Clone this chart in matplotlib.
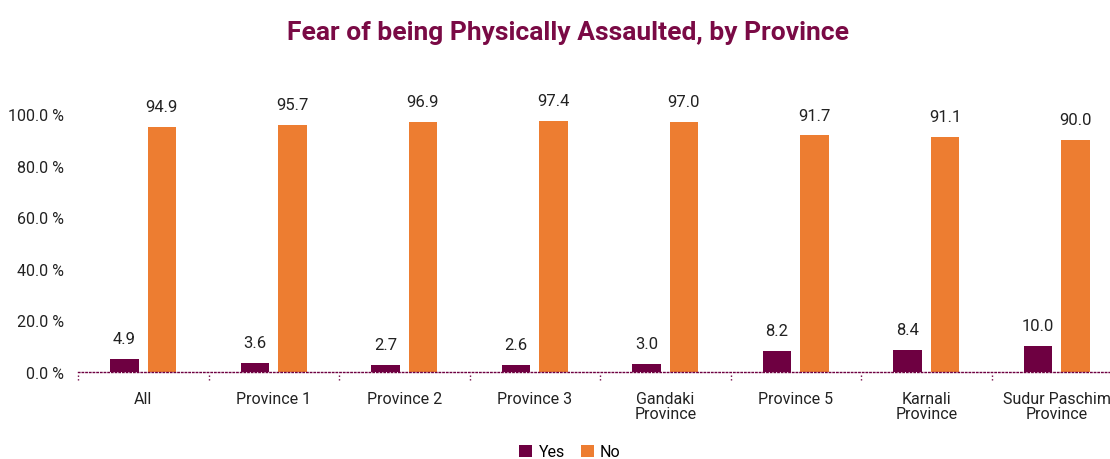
import numpy as np
import matplotlib.pyplot as plt

# categories and values (%)
categories = ['All', 'Province 1', 'Province 2', 'Province 3', 'Gandaki\nProvince',
              'Province 5', 'Karnali\nProvince', 'Sudur Paschim\nProvince']
yes_vals = [4.9, 3.6, 2.7, 2.6, 3.0, 8.2, 8.4, 10.0]
no_vals = [94.9, 95.7, 96.9, 97.4, 97.0, 91.7, 91.1, 90.0]
yticks = [0, 20, 40, 60, 80, 100]

maroon = '#6e0041'
orange = '#ed7d31'
plt.rcParams['font.family'] = ['Roboto', 'DejaVu Sans']

fig = plt.figure(figsize=(11.1, 4.6), dpi=100)
ax = fig.add_axes([78 / 1110, 87 / 460, 1032 / 1110, 283.8 / 460])

x = np.arange(len(categories))
w = 0.22
off = 0.143
ax.bar(x - off, yes_vals, w, color=maroon, label='Yes')
ax.bar(x + off, no_vals, w, color=orange, label='No')

for xi, v in zip(x, yes_vals):
    ax.text(xi - off, v + 5, f'{v:.1f}', ha='center', va='bottom', fontsize=12, color='#222222')
for xi, v in zip(x, no_vals):
    ax.text(xi + off, v + 5, f'{v:.1f}', ha='center', va='bottom', fontsize=12, color='#222222')

ax.set_xlim(-0.5, -0.5 + 1032 / 130.5)
ax.set_ylim(0, 110)
ax.set_yticks(yticks)
ax.set_yticklabels([f'{t:.1f} %' for t in yticks], fontsize=11.5, color='#222222')
ax.set_xticks(x)
ax.set_xticklabels(categories, fontsize=11.5, color='#222222', linespacing=0.95)
ax.tick_params(axis='both', length=0)
ax.tick_params(axis='x', pad=14)
ax.tick_params(axis='y', pad=10)

# category separators below baseline
for b in np.arange(-0.5, len(categories), 1.0):
    ax.plot([b, b], [-1.0, -3.2], color=maroon, lw=1, ls=':', clip_on=False)

for s in ['top', 'right', 'left']:
    ax.spines[s].set_visible(False)
ax.spines['bottom'].set_color(maroon)
ax.spines['bottom'].set_linestyle(':')
ax.spines['bottom'].set_linewidth(1)

fig.suptitle('Fear of being Physically Assaulted, by Province', x=0.512, y=0.955,
             fontsize=19, fontweight='bold', color='#7a0a45')

ax.legend(loc='center', bbox_to_anchor=(570 / 1110, 7 / 460), bbox_transform=fig.transFigure,
          ncol=2, frameon=False, fontsize=11.5, handlelength=0.8, handleheight=0.8,
          columnspacing=1.0, handletextpad=0.4)

fig.savefig('out.png', dpi=100)
